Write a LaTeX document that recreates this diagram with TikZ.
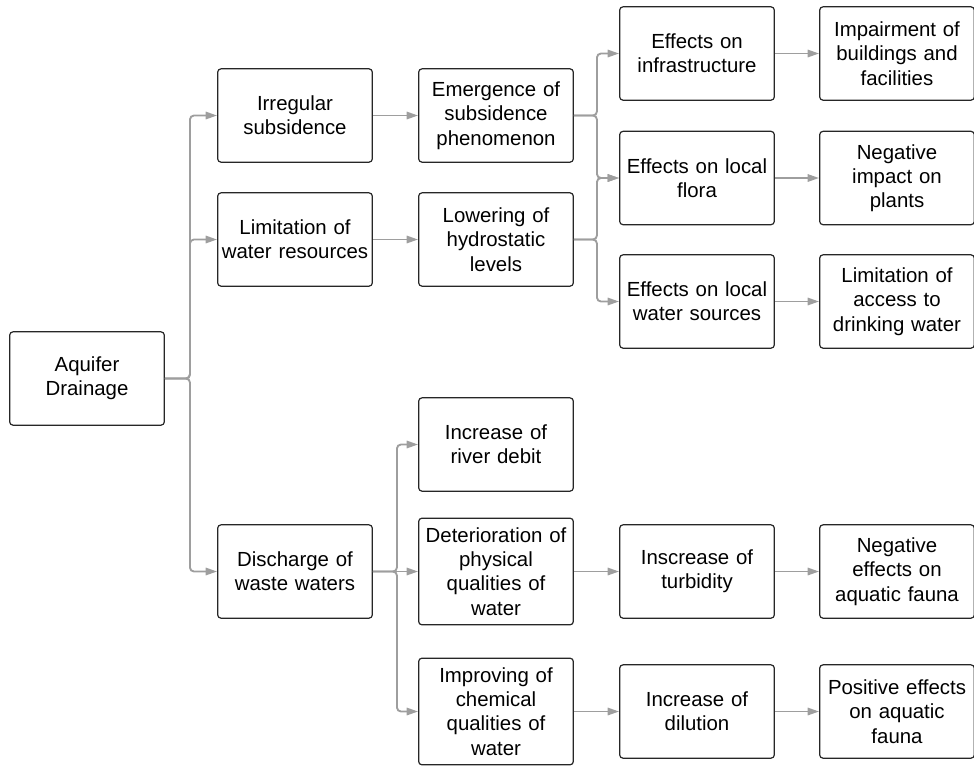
\documentclass[tikz,border=0pt]{standalone}
\usepackage{fontspec}
\setmainfont{Liberation Sans}
\usepackage{tikz}
\usetikzlibrary{arrows.meta}

\begin{document}
\begin{tikzpicture}[x=0.75pt, y=-0.75pt, font=\fontsize{15.3}{18.2}\selectfont]
\tikzstyle{box}=[draw=black!85, line width=0.9pt, rounded corners=2.5pt, align=center, minimum width=116pt, minimum height=70pt, text width=112pt, inner xsep=2pt, inner ysep=0pt]
\tikzstyle{tall}=[minimum height=80pt]
\tikzstyle{link}=[draw=black!38, line width=1.4pt, rounded corners=3pt, -{Triangle[length=8.5pt, width=5.5pt]}]
\useasboundingbox (0,0) rectangle (974,765);

\node[box] (aquifer) at (87,378.5) {Aquifer\\Drainage};

\node[box] (irreg) at (295,115.5) {Irregular\\subsidence};
\node[box] (limit) at (295,239.5) {Limitation of\\water resources};
\node[box] (disch) at (295,571.5) {Discharge of\\waste waters};

\node[box] (emerg) at (496,115.5) {Emergence of\\subsidence\\phenomenon};
\node[box] (lower) at (496,239.5) {Lowering of\\hydrostatic\\levels};
\node[box] (debit) at (496,444.5) {Increase of\\river debit};
\node[box, tall] (deter) at (496,571.5) {Deterioration of\\physical\\qualities of\\water};
\node[box, tall] (improv) at (496,711.5) {Improving of\\chemical\\qualities of\\water};

\node[box] (infra) at (697,53.5) {Effects on\\infrastructure};
\node[box] (flora) at (697,178) {Effects on local\\flora};
\node[box] (sources) at (697,301.5) {Effects on local\\water sources};
\node[box] (turbid) at (697,571.5) {Inscrease of\\turbidity};
\node[box] (dilut) at (697,711.5) {Increase of\\dilution};

\node[box] (impair) at (897,53.5) {Impairment of\\buildings and\\facilities};
\node[box] (plants) at (897,178) {Negative\\impact on\\plants};
\node[box] (drink) at (897,301.5) {Limitation of\\access to\\drinking water};
\node[box] (negfauna) at (897,571.5) {Negative\\effects on\\aquatic fauna};
\node[box] (posfauna) at (897,711.5) {Positive effects\\on aquatic\\fauna};

\draw[link] (aquifer.east) -- ++(25,0) |- (irreg.west);
\draw[link] (aquifer.east) -- ++(25,0) |- (limit.west);
\draw[link] (aquifer.east) -- ++(25,0) |- (disch.west);
\draw[link] (irreg) -- (emerg);
\draw[link] (limit) -- (lower);

\draw[link] (emerg.east) -- ++(23,0) |- (infra.west);
\draw[link] (emerg.east) -- ++(23,0) |- (flora.west);
\draw[link] (lower.east) -- ++(23,0) |- (flora.west);
\draw[link] (lower.east) -- ++(23,0) |- (sources.west);
\draw[link] (infra) -- (impair);
\draw[link] (flora) -- (plants);
\draw[link] (sources) -- (drink);

\draw[link] (disch.east) -- ++(24,0) |- (debit.west);
\draw[link] (disch) -- (deter);
\draw[link] (disch.east) -- ++(24,0) |- (improv.west);
\draw[link] (deter) -- (turbid);
\draw[link] (turbid) -- (negfauna);
\draw[link] (improv) -- (dilut);
\draw[link] (dilut) -- (posfauna);
\end{tikzpicture}
\end{document}
